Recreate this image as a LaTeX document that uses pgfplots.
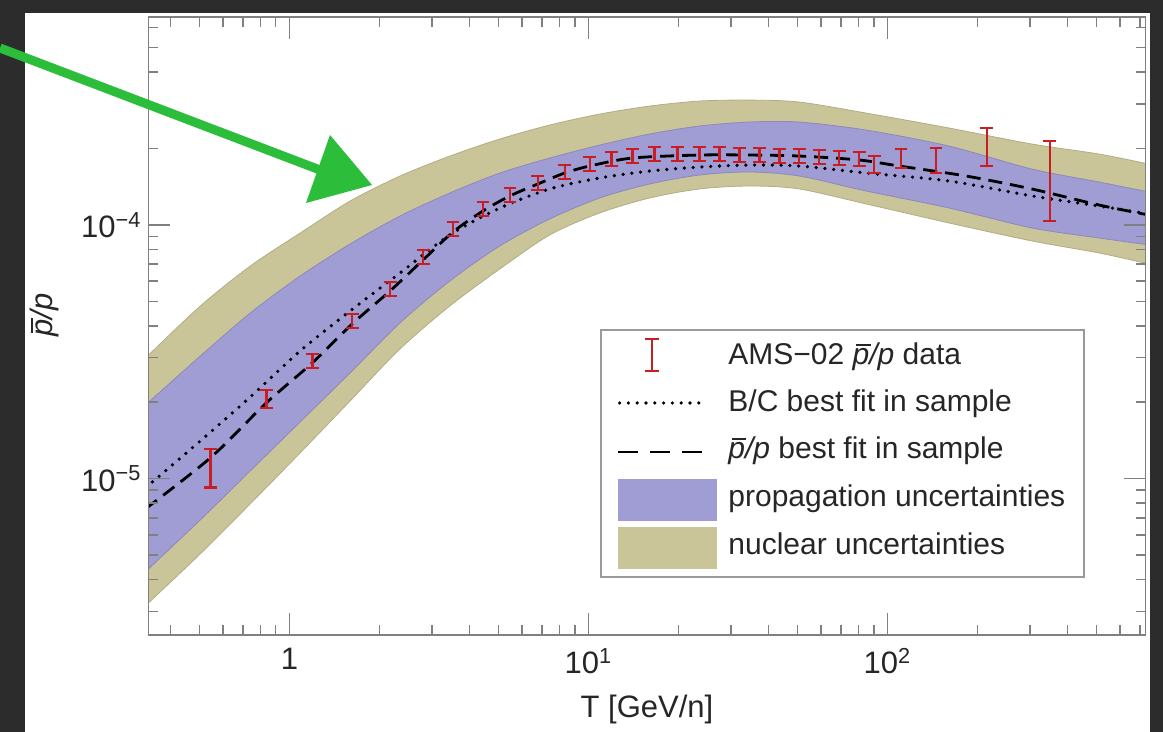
\documentclass[border=0pt]{standalone}
\usepackage{pgfplots}
\pgfplotsset{compat=1.18}
\usepackage{pgfplotstable}
\usepackage{fontspec}
\setmainfont{Liberation Sans}
\definecolor{bgdark}{RGB}{44,44,44}
\definecolor{nuc}{RGB}{201,197,152}
\definecolor{prop}{RGB}{160,156,212}
\definecolor{amsred}{RGB}{200,30,35}
\definecolor{axgray}{RGB}{128,128,128}
\definecolor{arrowgreen}{RGB}{44,190,58}
\newcommand\pbar{\rlap{\hspace{0.12em}\rule[0.64em]{0.48em}{0.06em}}p}

\pgfplotstableread{
T v ep em
0.545 1.105e-5 2.07e-6 1.83e-6
0.838 2.065e-5 1.75e-6 1.62e-6
1.193 2.914e-5 1.91e-6 1.79e-6
1.623 4.188e-5 2.74e-6 2.58e-6
2.173 5.598e-5 3.67e-6 3.44e-6
2.800 7.482e-5 4.90e-6 4.60e-6
3.526 9.644e-5 6.32e-6 5.93e-6
4.440 1.156e-4 7.57e-6 7.11e-6
5.463 1.312e-4 8.59e-6 8.07e-6
6.773 1.463e-4 9.58e-6 9.00e-6
8.336 1.617e-4 1.06e-5 9.94e-6
10.10 1.738e-4 1.14e-5 1.07e-5
11.96 1.819e-4 1.19e-5 1.12e-5
14.05 1.869e-4 1.22e-5 1.15e-5
16.64 1.904e-4 1.25e-5 1.17e-5
19.86 1.904e-4 1.25e-5 1.17e-5
23.52 1.904e-4 1.25e-5 1.17e-5
27.43 1.904e-4 1.25e-5 1.17e-5
31.98 1.886e-4 1.24e-5 1.16e-5
37.28 1.886e-4 1.24e-5 1.16e-5
43.48 1.869e-4 1.22e-5 1.15e-5
50.70 1.869e-4 1.22e-5 1.15e-5
59.14 1.852e-4 1.21e-5 1.14e-5
68.96 1.835e-4 1.20e-5 1.13e-5
80.38 1.819e-4 1.19e-5 1.12e-5
90.23 1.738e-4 1.31e-5 1.36e-5
111.0 1.835e-4 1.56e-5 1.58e-5
145.3 1.803e-4 2.06e-5 2.01e-5
214.9 2.028e-4 3.82e-5 3.21e-5
348.8 1.490e-4 6.52e-5 4.53e-5
}\amsdata

% nuclear uncertainty band: upper edge left to right, then lower edge right to left
\pgfplotstableread{
T v
0.273 2.410e-5
0.3308 2.995e-5
0.5047 4.800e-5
0.7413 6.895e-5
1.088 9.301e-5
1.598 1.243e-4
2.346 1.559e-4
3.444 1.869e-4
5.058 2.181e-4
7.428 2.476e-4
10.91 2.735e-4
16.02 2.941e-4
23.52 3.078e-4
34.53 3.105e-4
50.70 3.050e-4
84.82 2.760e-4
160.6 2.410e-4
303.8 2.084e-4
508.2 1.904e-4
746.4 1.739e-4
904 1.661e-4
904 6.68e-5
746.4 7.023e-5
508.2 7.760e-5
303.8 8.650e-5
160.6 1.018e-4
84.82 1.210e-4
50.70 1.386e-4
34.53 1.424e-4
23.52 1.386e-4
16.02 1.277e-4
10.91 1.115e-4
7.428 9.134e-5
5.058 6.712e-5
3.444 4.800e-5
2.346 3.249e-5
1.598 2.028e-5
1.088 1.266e-5
0.7413 7.974e-6
0.5047 5.066e-6
0.3308 3.162e-6
0.273 2.544e-6
}\nucband

% propagation uncertainty band
\pgfplotstableread{
T v
0.273 1.602e-5
0.3308 1.956e-5
0.5047 3.050e-5
0.7413 4.503e-5
1.088 6.298e-5
1.598 8.419e-5
2.346 1.085e-4
3.444 1.337e-4
5.058 1.602e-4
7.428 1.836e-4
10.91 2.065e-4
16.02 2.282e-4
23.52 2.454e-4
34.53 2.544e-4
50.70 2.544e-4
84.82 2.366e-4
160.6 2.046e-4
303.8 1.661e-4
508.2 1.477e-4
746.4 1.349e-4
904 1.289e-4
904 8.08e-5
746.4 8.344e-5
508.2 8.888e-5
303.8 9.732e-5
160.6 1.166e-4
84.82 1.361e-4
50.70 1.559e-4
34.53 1.617e-4
23.52 1.573e-4
16.02 1.450e-4
10.91 1.277e-4
7.428 1.056e-4
5.058 8.268e-5
3.444 6.018e-5
2.346 4.113e-5
1.598 2.614e-5
1.088 1.676e-5
0.7413 1.075e-5
0.5047 6.895e-6
0.3308 4.304e-6
0.273 3.463e-6
}\propband

\pgfplotstableread{
T v
0.3308 9.218e-6
0.5047 1.411e-5
0.7413 2.102e-5
1.088 3.191e-5
1.598 4.585e-5
2.346 6.471e-5
3.444 9.134e-5
5.058 1.166e-4
7.428 1.386e-4
10.91 1.531e-4
16.02 1.631e-4
23.52 1.691e-4
34.53 1.722e-4
50.70 1.707e-4
84.82 1.602e-4
160.6 1.490e-4
303.8 1.301e-4
508.2 1.188e-4
746.4 1.105e-4
}\bcfit

\pgfplotstableread{
T v
0.3308 7.619e-6
0.5451 1.210e-5
0.8380 1.991e-5
1.193 2.861e-5
1.623 4.075e-5
2.173 5.498e-5
2.800 7.281e-5
3.526 9.385e-5
4.440 1.135e-4
5.463 1.301e-4
6.773 1.450e-4
8.336 1.602e-4
10.10 1.707e-4
14.05 1.836e-4
23.52 1.886e-4
34.53 1.886e-4
50.70 1.869e-4
80.38 1.803e-4
109.3 1.707e-4
183.0 1.559e-4
303.8 1.386e-4
508.2 1.199e-4
746.4 1.095e-4
}\ppfit

\begin{document}
\begin{tikzpicture}
\fill[bgdark] (0,0) rectangle (581.5pt,366pt);
\fill[white] (12.5pt,0) rectangle (575pt,359.5pt);
\begin{axis}[
  at={(74.25pt,48.5pt)}, anchor=south west,
  scale only axis, width=498.5pt, height=309pt,
  xmode=log, ymode=log,
  xmin=0.338, xmax=729, ymin=2.42e-6, ymax=6.6e-4,
  axis on top,
  axis line style={draw=axgray, line width=0.9pt},
  tick style={draw=axgray, line width=0.8pt},
  tick align=inside,
  major tick length=11pt, minor tick length=5pt,
  xtick={1,10,100},
  xticklabels={1,{10\textsuperscript{1}},{10\textsuperscript{2}}},
  minor xtick={0.4,0.5,0.6,0.7,0.8,0.9,2,3,4,5,6,7,8,9,20,30,40,50,60,70,80,90,200,300,400,500,600,700},
  ytick={1e-5,1e-4},
  yticklabels={{10\textsuperscript{−5}},{10\textsuperscript{−4}}},
  minor ytick={3e-6,4e-6,5e-6,6e-6,7e-6,8e-6,9e-6,2e-5,3e-5,4e-5,5e-5,6e-5,7e-5,8e-5,9e-5,2e-4,3e-4,4e-4,5e-4,6e-4},
  tick label style={font=\fontsize{15.5}{18}\selectfont, text=black!85},
  xticklabel style={yshift=-3pt},
  label style={font=\fontsize{15.5}{18}\selectfont, text=black!85},
  xlabel={T [GeV/n]},
  ylabel={\textit{\pbar/p}},
  xlabel style={at={(axis description cs:0.5,-0.121)}, anchor=center},
  ylabel style={at={(axis description cs:-0.104,0.518)}, anchor=center},
]
\addplot[fill=nuc, draw=nuc!88!black, line width=0.4pt, smooth] table[x=T, y=v] {\nucband};
\addplot[fill=prop, draw=prop!88!black, line width=0.4pt, smooth] table[x=T, y=v] {\propband};
\addplot[black, smooth, line width=1.8pt, line cap=round, dash pattern=on 0pt off 4.4pt] table[x=T, y=v] {\bcfit};
\addplot[black, smooth, line width=1.4pt, dash pattern=on 7pt off 4pt] table[x=T, y=v] {\ppfit};
\addplot[draw=none,
  error bars/.cd, y dir=both, y explicit, error mark=-,
  error bar style={draw=amsred, line width=1.2pt, solid},
  error mark options={rotate=90, draw=amsred, line width=1.2pt, mark size=3.2pt}]
  table[x=T, y=v, y error plus=ep, y error minus=em] {\amsdata};
\end{axis}
% legend
\draw[axgray!80, line width=0.6pt, fill=white] (300.5pt,77.5pt) rectangle (542pt,201pt);
\draw[amsred, line width=1.2pt] (326pt,180.5pt) -- (326pt,196.5pt)
  (322.5pt,180.5pt) -- (329.5pt,180.5pt) (322.5pt,196.5pt) -- (329.5pt,196.5pt);
\draw[black, line width=1.8pt, line cap=round, dash pattern=on 0pt off 4.4pt] (309.8pt,164.5pt) -- (352.5pt,164.5pt);
\draw[black, line width=1.4pt, dash pattern=on 10pt off 6pt] (309pt,140pt) -- (352.5pt,140pt);
\fill[prop] (309pt,105.5pt) rectangle (358.5pt,126.5pt);
\fill[nuc] (309pt,81.5pt) rectangle (358.5pt,102.5pt);
\begin{scope}[every node/.style={anchor=base west, inner sep=0pt, font=\fontsize{15}{18}\selectfont, text=black!85}]
\node at (364pt,183.5pt) {AMS−02 \textit{\pbar/p} data};
\node at (364pt,160pt) {B/C best fit in sample};
\node at (364pt,136.5pt) {\textit{\pbar/p} best fit in sample};
\node at (364pt,112.5pt) {propagation uncertainties};
\node at (364pt,88.5pt) {nuclear uncertainties};
\end{scope}
\draw[arrowgreen, line width=4.5pt] (0pt,342pt) -- (160pt,281pt);
\fill[arrowgreen] (165pt,298.5pt) -- (186pt,273.5pt) -- (153pt,264.5pt) -- cycle;
\pgfresetboundingbox
\path (0,0) rectangle (581.5pt,366pt);
\end{tikzpicture}
\end{document}
